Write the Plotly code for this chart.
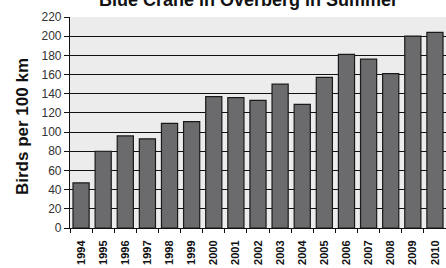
import plotly.graph_objects as go

years = ["1994", "1995", "1996", "1997", "1998", "1999", "2000", "2001", "2002",
         "2003", "2004", "2005", "2006", "2007", "2008", "2009", "2010"]
birds = [47, 80, 96, 93, 109, 111, 137, 136, 133, 150, 129, 157, 181, 176, 161, 200, 204]
y_ticks = [0, 20, 40, 60, 80, 100, 120, 140, 160, 180, 200, 220]

fig = go.Figure(go.Bar(
    x=years, y=birds,
    marker=dict(color="#6b6b6d", line=dict(color="#1a1a1a", width=1.2)),
))

PLOT_H = 268 - 17 - 40
PLOT_W = 446 - 70

fig.update_layout(
    width=446, height=268,
    margin=dict(l=70, r=0, t=17, b=40),
    plot_bgcolor="#ececec",
    paper_bgcolor="white",
    bargap=0.27,
    showlegend=False,
    font=dict(family="Liberation Sans, Arial", color="#111111"),
    annotations=[
        dict(
            text="<b>Blue Crane in Overberg in Summer</b>",
            xref="paper", yref="paper", x=(248 - 70) / PLOT_W, y=1 + (17 + 0.5) / PLOT_H,
            xanchor="center", yanchor="middle", showarrow=False,
            font=dict(size=18, color="#111111"),
        ),
        dict(
            text="<b>Birds per 100 km</b>",
            xref="paper", yref="paper", x=-(70 - 22) / PLOT_W, y=1 - (127 - 17) / PLOT_H,
            xanchor="center", yanchor="middle", showarrow=False, textangle=-90,
            font=dict(size=17, color="#111111"),
        ),
    ],
)

fig.update_yaxes(
    range=[0, 220], tickvals=y_ticks,
    showgrid=True, gridcolor="#111111", gridwidth=1,
    showline=True, linecolor="#111111", linewidth=1.2,
    ticks="outside", ticklen=5, tickcolor="#111111",
    tickfont=dict(size=12, color="#333333"),
    tickprefix="<b>", ticksuffix="</b>",
    zeroline=False, automargin=False,
)
fig.update_xaxes(
    type="category",
    tickson="boundaries",
    ticks="outside", ticklen=4, tickcolor="#111111",
    showline=True, linecolor="#111111", linewidth=1,
    showgrid=False,
    tickangle=-90,
    ticklabelstandoff=7,
    tickfont=dict(size=11, color="#111111"),
    tickprefix="<b>", ticksuffix="</b>",
    automargin=False,
)

fig.write_html("out.html", config={"displayModeBar": False},
               post_script="document.body.style.margin='0';document.body.style.overflow='hidden';")
